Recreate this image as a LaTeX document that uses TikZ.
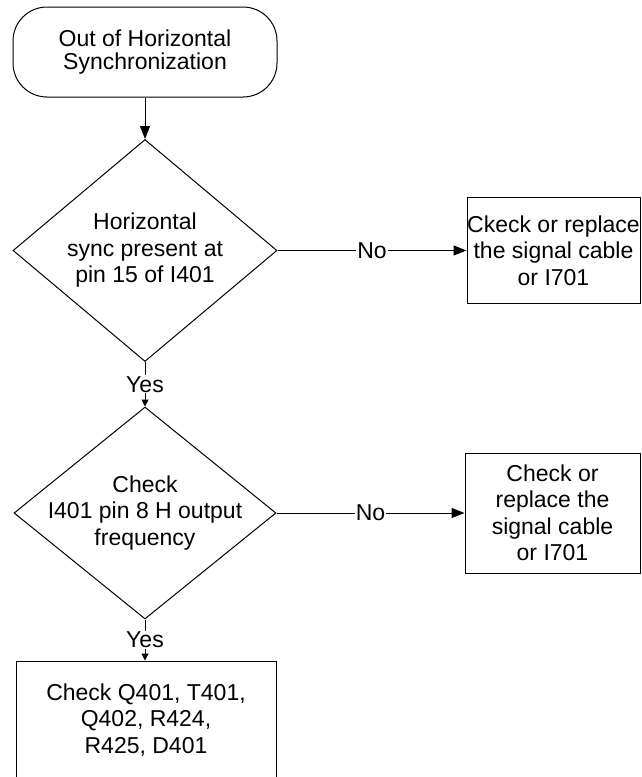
\documentclass[tikz,border=0pt]{standalone}
\usepackage{fontspec}
\setmainfont{Liberation Sans}
\usetikzlibrary{shapes.geometric,arrows.meta}

\begin{document}
\begin{tikzpicture}[x=1pt,y=-1pt,
  every node/.style={font=\fontsize{23}{26.5}\selectfont, align=center, inner sep=0pt},
  thinline/.style={line width=1pt},
  flowarrow/.style={thinline, -{Triangle[length=13pt,width=10pt]}},
  yesarrow/.style={thinline, -{Triangle[length=7pt,width=7pt]}},
  terminal/.style={draw, thinline, rounded corners=34pt, minimum width=264pt, minimum height=90pt},
  decision/.style={diamond, draw, thinline, aspect=1.2},
  procbox/.style={rectangle, draw, thinline},
  edgelabel/.style={fill=white, inner sep=1pt}
]
\useasboundingbox (0,0) rectangle (641,777);
\clip (0,0) rectangle (641,777);

% start of the procedure
\node[terminal, font=\fontsize{23}{23.5}\selectfont] (start) at (145,52)
  {Out of Horizontal\\Synchronization};

% first test and its remedy
\node[decision, minimum width=264pt, minimum height=222pt] (sync) at (145,250.5) {};
\node (synctext) at (sync.center) {Horizontal\\sync present at\\pin 15 of I401};
\node[procbox, minimum width=173pt, minimum height=106pt] (cable1) at (553.5,250.5)
  {Ckeck or replace\\the signal cable\\or I701};

% second test and its remedy
\node[decision, minimum width=262pt, minimum height=212pt] (freq) at (145,513) {};
\node (freqtext) at (freq.center) {Check\\I401 pin 8 H output\\frequency};
\node[procbox, minimum width=175pt, minimum height=120pt] (cable2) at (552.5,513)
  {Check or\\replace the\\signal cable\\or I701};

% final parts check (box runs off the lower edge)
\node[procbox, minimum width=260pt, minimum height=118pt] (parts) at (146,720)
  {Check Q401, T401,\\Q402, R424,\\R425, D401};

% connectors
\draw[flowarrow] (start.south) -- (sync.north);
\draw[flowarrow] (sync.east) -- node[edgelabel] {No} (cable1.west);
\draw[yesarrow] (sync.south) -- node[edgelabel] {Yes} (freq.north);
\draw[flowarrow] (freq.east) -- node[edgelabel] {No} (cable2.west);
\draw[yesarrow] (freq.south) -- node[edgelabel] {Yes} (parts.north -| freq.south);
\end{tikzpicture}
\end{document}
